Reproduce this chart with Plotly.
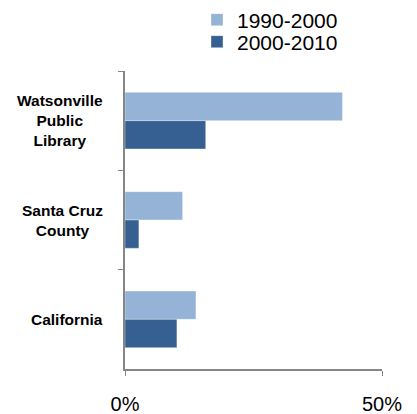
import plotly.graph_objects as go

categories = ["Watsonville<br>Public<br>Library", "Santa Cruz<br>County", "California"]
series_names = ["1990-2000", "2000-2010"]
values_1990_2000 = [42.3, 11.2, 13.8]
values_2000_2010 = [15.7, 2.7, 10.1]
colors = ["#95B3D7", "#366092"]
x_ticks = [0, 50]
x_tick_labels = ["0%", "50%"]

W, H = 409, 406  # page body adds an 8px offset

fig = go.Figure()
for i, (name, vals, col) in enumerate(zip(series_names, [values_1990_2000, values_2000_2010], colors)):
    fig.add_trace(go.Bar(
        y=categories, x=vals, name=name, orientation="h",
        legend="legend" if i == 0 else "legend2", showlegend=True,
        marker=dict(color=col, line=dict(color="rgba(255,255,255,0.6)", width=0.6)),
    ))

for c in categories:
    fig.add_annotation(
        x=0, xref="paper", y=c, yref="y", xanchor="right", xshift=-20.5,
        text="<b>" + c + "</b>", showarrow=False, align="center",
        font=dict(size=15.5, color="black", family="Liberation Sans, Arial, sans-serif"),
    )

leg_common = dict(
    xref="container", yref="container", x=189 / W, xanchor="left", yanchor="middle",
    font=dict(size=21), itemwidth=30, bgcolor="rgba(0,0,0,0)", visible=True,
)

fig.update_layout(
    width=W, height=H, showlegend=True,
    margin=dict(l=117, r=35, t=63, b=45, autoexpand=False),
    paper_bgcolor="white", plot_bgcolor="white",
    barmode="group", bargap=0.43, bargroupgap=0,
    font=dict(family="Liberation Sans, Arial, sans-serif", color="black"),
    legend=dict(y=1 - 12 / H, **leg_common),
    legend2=dict(y=1 - 34 / H, **leg_common),
    xaxis=dict(
        range=[0, 50], tickvals=x_ticks, ticktext=x_tick_labels,
        showgrid=True, gridcolor="#BFBFBF", gridwidth=1.2,
        showline=True, linecolor="#868686", linewidth=1.5,
        ticks="outside", ticklen=5, tickcolor="#868686",
        tickfont=dict(size=20), ticklabelstandoff=11, zeroline=False,
        automargin=False,
    ),
    yaxis=dict(
        autorange="reversed", showline=True, linecolor="#868686", linewidth=1.5,
        ticks="outside", ticklen=5, tickcolor="#868686", tickson="boundaries",
        showticklabels=False, showgrid=False, automargin=False,
    ),
)
fig.write_html("out.html")
